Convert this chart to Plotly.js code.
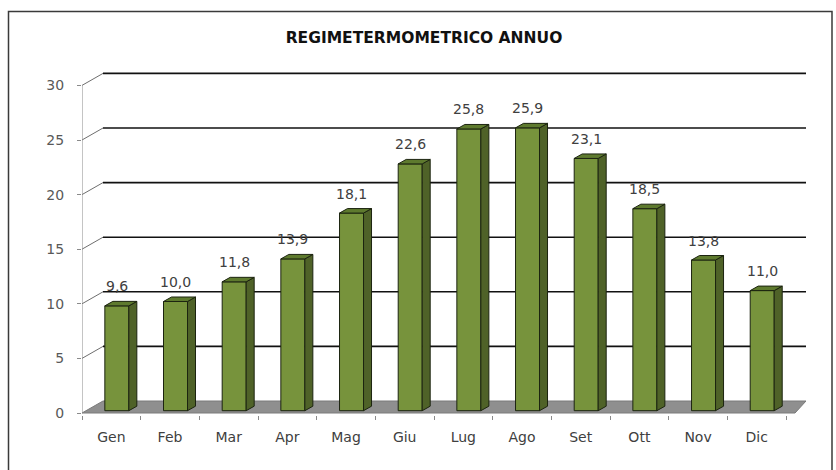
<!DOCTYPE html>
<html>
<head>
<meta charset="utf-8">
<script src="https://cdn.plot.ly/plotly-3.0.1.min.js"></script>
<style>
  html, body { margin: 0; padding: 0; background: #ffffff; }
  #chart { width: 836px; height: 470px; }
</style>
</head>
<body>
<div id="chart"></div>
<script>
// ---- data ----
const months = ['Gen', 'Feb', 'Mar', 'Apr', 'Mag', 'Giu', 'Lug', 'Ago', 'Set', 'Ott', 'Nov', 'Dic'];
const temps = [9.6, 10.0, 11.8, 13.9, 18.1, 22.6, 25.8, 25.9, 23.1, 18.5, 13.8, 11.0];
const yTicks = [0, 5, 10, 15, 20, 25, 30];
const chartTitle = 'REGIMETERMOMETRICO ANNUO';

// ---- geometry (pixels) ----
const W = 836, H = 470;
const L = 82, R = 806, T = 68, B = 415;
const PXX = 58.67;           // px per category
const PXY = 10.92;           // px per degree
const ZERO_PX = 413;         // pixel row of value 0 on the front plane
const xMin = -0.5, xMax = -0.5 + (R - L) / PXX;
const yMin = -(B - ZERO_PX) / PXY, yMax = (ZERO_PX - T) / PXY;

// depth of the wall/floor and of the bars, in data units
const wdx = 21 / PXX, wdy = 12 / PXY;
const bdx = 8 / PXX, bdy = 4.5 / PXY;
const barBase = 2.3 / PXY;
const barShift = 5.5 / PXX;
const barW = 24 / PXX;

const idx = months.map((_, i) => i);
const fmt = v => v.toFixed(1).replace('.', ',');

// faces
const sideX = [], sideY = [], topX = [], topY = [];
temps.forEach((v, i) => {
  const xl = i + barShift - barW / 2, xr = i + barShift + barW / 2;
  const y0 = barBase, y1 = barBase + v;
  sideX.push(xr, xr, xr + bdx, xr + bdx, xr, null);
  sideY.push(y0, y1, y1 + bdy, y0 + bdy, y0, null);
  topX.push(xl, xr, xr + bdx, xl + bdx, xl, null);
  topY.push(y1, y1, y1 + bdy, y1 + bdy, y1, null);
});

const traces = [
  {
    type: 'bar', x: idx, y: temps, base: barBase, width: barW,
    offset: barShift - barW / 2,
    marker: { color: '#77933C', line: { color: '#1c2410', width: 1 } },
    hoverinfo: 'skip', showlegend: false
  },
  {
    type: 'scatter', mode: 'lines', x: sideX, y: sideY, fill: 'toself',
    fillcolor: '#4F6228', line: { color: '#1c2410', width: 1 },
    hoverinfo: 'skip', showlegend: false
  },
  {
    type: 'scatter', mode: 'lines', x: topX, y: topY, fill: 'toself',
    fillcolor: '#5E7A2E', line: { color: '#1c2410', width: 1 },
    hoverinfo: 'skip', showlegend: false
  }
];

// decorations: floor, back-wall gridlines, front axis line, frame
const shapes = [];
shapes.push({
  type: 'path', xref: 'x', yref: 'y', layer: 'below',
  path: `M ${xMin} 0 L ${11.5 + 9 / PXX} 0 L ${xMax} ${wdy} L ${xMin + wdx} ${wdy} Z`,
  fillcolor: '#8F8F8F', line: { color: '#7a7a7a', width: 1 }
});
yTicks.filter(v => v > 0).forEach(v => {
  shapes.push({
    type: 'line', xref: 'x', yref: 'y', layer: 'below',
    x0: xMin, y0: v, x1: xMin + wdx, y1: v + wdy,
    line: { color: '#6e6e6e', width: 1 }
  });
  shapes.push({
    type: 'line', xref: 'x', yref: 'y', layer: 'below',
    x0: xMin + wdx, y0: v + wdy, x1: xMax, y1: v + wdy,
    line: { color: '#111111', width: 1.6 }
  });
});
shapes.push({
  type: 'line', xref: 'x', yref: 'y', layer: 'below',
  x0: xMin, y0: 0, x1: xMin, y1: yTicks[yTicks.length - 1],
  line: { color: '#8a8a8a', width: 1 }
});
const px = p => (p - L) / (R - L);
const py = p => (B - p) / (B - T);
shapes.push({
  type: 'rect', xref: 'paper', yref: 'paper', layer: 'below',
  x0: px(8.5), x1: px(832), y0: py(476), y1: py(11.5),
  line: { color: '#3a3a3a', width: 1.5 }, fillcolor: 'rgba(0,0,0,0)'
});

const annotations = temps.map((v, i) => ({
  x: i + barShift, y: v + barBase, xref: 'x', yref: 'y',
  text: fmt(v), showarrow: false, yanchor: 'middle', yshift: 19.5,
  font: { family: 'DejaVu Sans', size: 14, color: '#404040' }
}));

const layout = {
  width: W, height: H,
  margin: { l: L, r: W - R, t: T, b: H - B, pad: 0 },
  paper_bgcolor: '#ffffff', plot_bgcolor: 'rgba(0,0,0,0)',
  showlegend: false,
  title: {
    text: chartTitle, xref: 'container', yref: 'container',
    x: 424 / W, y: 1 - 38 / H, xanchor: 'center', yanchor: 'middle',
    font: { family: 'DejaVu Sans', size: 15.5, weight: 700, color: '#111111' }
  },
  xaxis: {
    range: [xMin, xMax], tickmode: 'array', tickvals: idx, ticktext: months,
    ticks: '', showgrid: false, zeroline: false, showline: false,
    ticklabelstandoff: 12,
    tickfont: { family: 'DejaVu Sans', size: 14, color: '#404040' },
    minor: { tickmode: 'linear', tick0: -0.5, dtick: 1, ticks: 'outside', ticklen: 4, tickcolor: '#8a8a8a', tickwidth: 1, showgrid: false },
    fixedrange: true
  },
  yaxis: {
    range: [yMin, yMax], tickmode: 'array', tickvals: yTicks,
    ticks: 'outside', ticklen: 4, tickcolor: '#8a8a8a', tickwidth: 1,
    showgrid: false, zeroline: false, showline: false,
    ticklabelstandoff: 10,
    tickfont: { family: 'DejaVu Sans', size: 14, color: '#595959' },
    fixedrange: true
  },
  shapes: shapes,
  annotations: annotations
};

Plotly.newPlot('chart', traces, layout, { staticPlot: true, displayModeBar: false });
</script>
</body>
</html>
